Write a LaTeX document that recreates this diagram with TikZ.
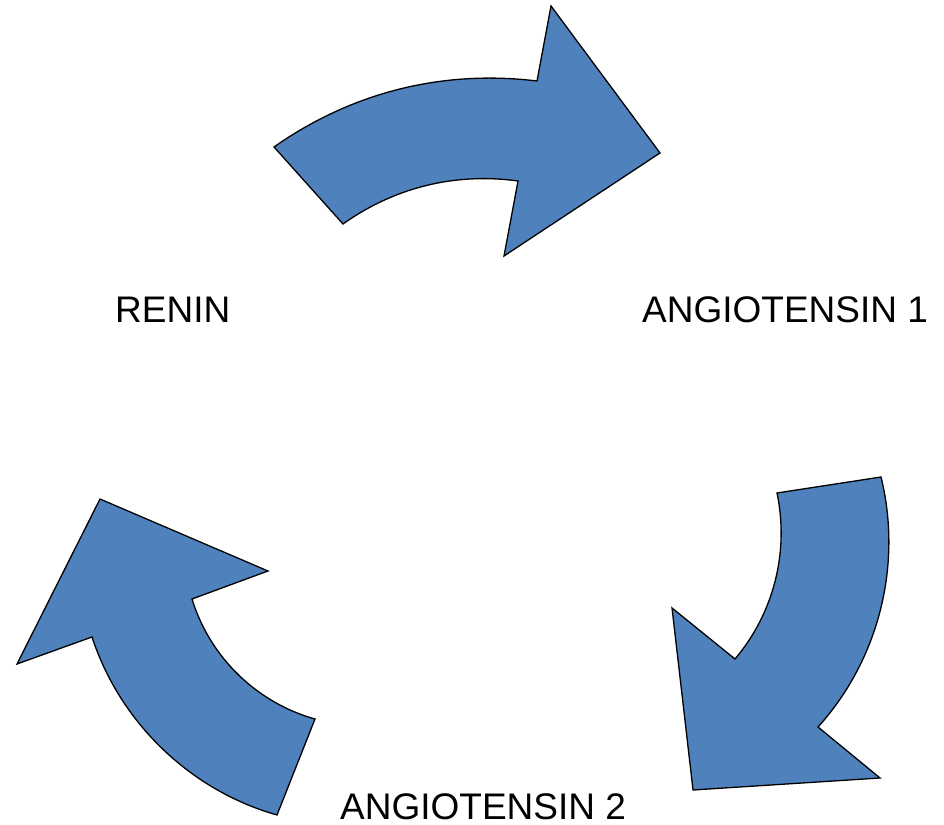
\documentclass[tikz,border=0pt]{standalone}
\usepackage{fontspec}
\setmainfont{Liberation Sans}
\definecolor{arrowblue}{HTML}{4F81BD}
\begin{document}
\begin{tikzpicture}[x=1pt,y=1pt,
  curvedarrow/.style={fill=arrowblue,draw=black,line width=1.3pt,line join=miter},
  label/.style={inner sep=0pt,anchor=base west,font=\fontsize{37}{40}\selectfont}]
\useasboundingbox (0,0) rectangle (944,824);
% top arrow: RENIN -> ANGIOTENSIN 1
\coordinate (t1) at (274,677);
\coordinate (t2) at (537,743);
\coordinate (t3) at (551,818);
\coordinate (t4) at (660,671);
\coordinate (t5) at (504,568);
\coordinate (t6) at (518,643);
\coordinate (t7) at (343,600);
\draw[curvedarrow] (t1) to[bend left=21,looseness=0.9] (t2) -- (t3) -- (t4) -- (t5) -- (t6)
  to[bend right=21.6,looseness=0.9] (t7) -- cycle;
% right arrow: ANGIOTENSIN 1 -> ANGIOTENSIN 2
\coordinate (r1) at (881,347);
\coordinate (r2) at (818,97);
\coordinate (r3) at (880,46);
\coordinate (r4) at (693,34);
\coordinate (r5) at (672,216);
\coordinate (r6) at (735,165);
\coordinate (r7) at (777,331);
\draw[curvedarrow] (r1) to[bend left=28,looseness=0.9] (r2) -- (r3) -- (r4) -- (r5) -- (r6)
  to[bend right=26,looseness=0.9] (r7) -- cycle;
% left arrow: ANGIOTENSIN 2 -> RENIN
\coordinate (l1) at (277,9);
\coordinate (l2) at (315,105);
\coordinate (l3) at (192,225);
\coordinate (l4) at (268,253);
\coordinate (l5) at (100,325);
\coordinate (l6) at (17,160);
\coordinate (l7) at (92,187);
\draw[curvedarrow] (l1) -- (l2) to[bend left=28.7,looseness=0.9] (l3) -- (l4) -- (l5) -- (l6) -- (l7)
  to[bend right=28,looseness=0.9] (l1) -- cycle;
% labels
\node[label] (renin) at (115,501) {RENIN};
\node[label] (ang1) at (642,501) {ANGIOTENSIN 1};
\node[label] (ang2) at (340,5) {ANGIOTENSIN 2};
\end{tikzpicture}
\end{document}
